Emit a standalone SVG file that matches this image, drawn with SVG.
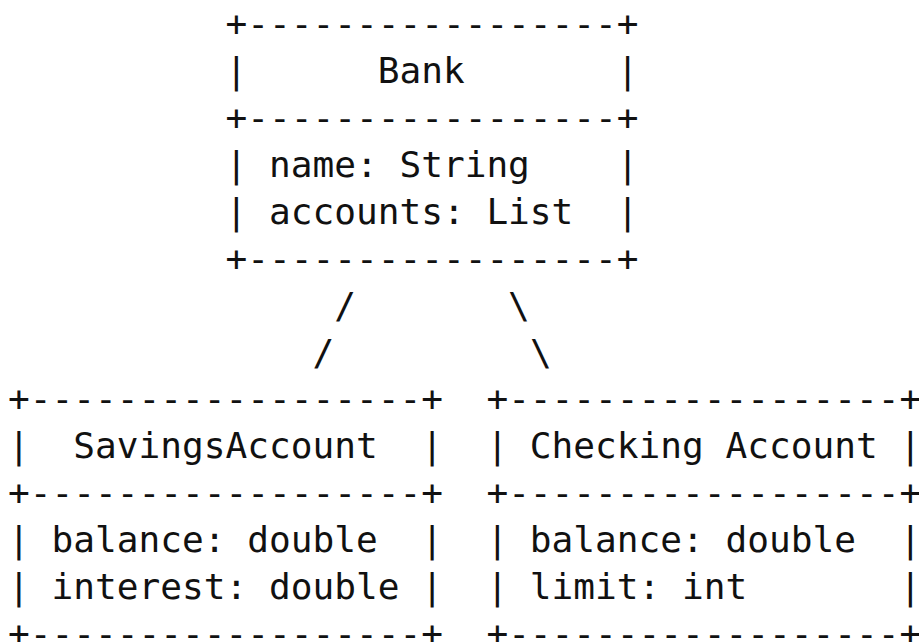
<svg xmlns="http://www.w3.org/2000/svg" width="919" height="642" viewBox="0 0 919 642">
<style>
text{font-family:"DejaVu Sans Mono","Liberation Mono",monospace;font-size:36.11px;fill:#111;white-space:pre}
</style>
<rect width="919" height="642" fill="#fff"/>
<g id="bank" xml:space="preserve">
<text x="225.5" y="36">+-----------------+</text>
<text x="225.5" y="83">|      Bank       |</text>
<text x="225.5" y="130">+-----------------+</text>
<text x="225.5" y="177">| name: String    |</text>
<text x="225.5" y="224">| accounts: List  |</text>
<text x="225.5" y="271">+-----------------+</text>
</g>
<g id="connectors" xml:space="preserve">
<text x="334.2" y="318">/</text>
<text x="508.1" y="318">\</text>
<text x="312.5" y="365">/</text>
<text x="529.9" y="365">\</text>
</g>
<g id="savings" xml:space="preserve">
<text x="8.1" y="411">+------------------+</text>
<text x="8.1" y="458">|  SavingsAccount  |</text>
<text x="8.1" y="505">+------------------+</text>
<text x="8.1" y="552">| balance: double  |</text>
<text x="8.1" y="599">| interest: double |</text>
<text x="8.1" y="646">+------------------+</text>
</g>
<g id="checking" xml:space="preserve">
<text x="486.4" y="411">+------------------+</text>
<text x="486.4" y="458">| Checking Account |</text>
<text x="486.4" y="505">+------------------+</text>
<text x="486.4" y="552">| balance: double  |</text>
<text x="486.4" y="599">| limit: int       |</text>
<text x="486.4" y="646">+------------------+</text>
</g>
</svg>
